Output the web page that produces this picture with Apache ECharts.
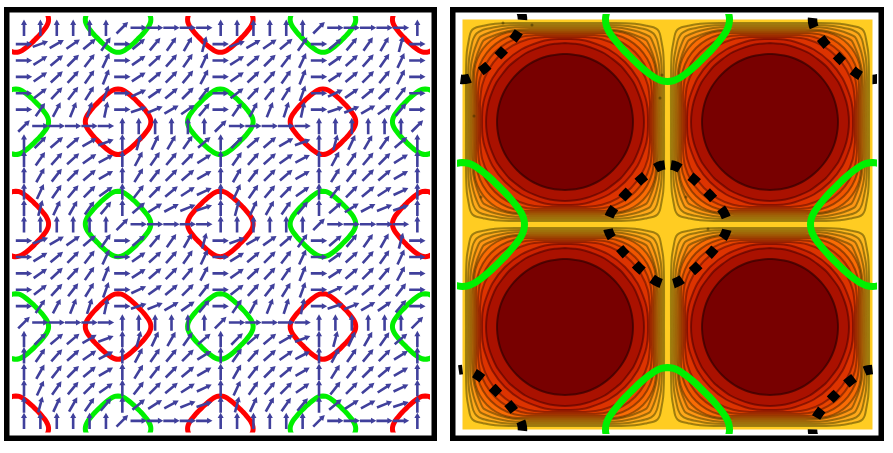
<!DOCTYPE html>
<html>
<head>
<meta charset="utf-8">
<style>
  html, body { margin: 0; padding: 0; background: #fff; }
  #main { width: 893px; height: 453px; }
</style>
<script src="https://cdn.jsdelivr.net/npm/echarts@6/dist/echarts.min.js"></script>
</head>
<body>
<div id="main"></div>
<script>
// left panel: arrow direction in degrees, one row per grid line, 25 x 25
const arrowAngles = [
  [90,90,90,90,90,90,45,0,0,0,0,0,90,90,90,90,90,90,45,0,0,0,0,0,90],
  [0,20,30,35,40,55,0,40,50,55,60,75,0,20,30,35,40,55,0,40,50,55,60,75,0],
  [0,32,40,45,52,65,0,35,42,48,55,65,0,32,40,45,52,65,0,35,42,48,55,65,0],
  [0,35,43,47,55,68,0,33,40,45,50,62,0,35,43,47,55,68,0,33,40,45,50,62,0],
  [0,38,47,52,58,70,0,25,35,40,45,52,0,38,47,52,58,70,0,25,35,40,45,52,0],
  [0,55,62,68,72,78,0,18,22,30,35,50,0,55,62,68,72,78,0,18,22,30,35,50,0],
  [45,0,0,0,0,0,90,90,90,90,90,90,45,0,0,0,0,0,90,90,90,90,90,90,45],
  [90,45,40,40,30,20,90,75,65,60,55,40,90,45,40,40,30,20,90,75,65,60,55,40,90],
  [90,55,48,42,35,28,90,62,55,50,45,32,90,55,48,42,35,28,90,62,55,50,45,32,90],
  [90,60,52,45,40,30,90,58,52,45,40,30,90,60,52,45,40,30,90,58,52,45,40,30,90],
  [90,65,55,50,45,35,90,52,45,40,33,25,90,65,55,50,45,35,90,52,45,40,33,25,90],
  [90,75,65,60,55,50,90,40,32,28,22,18,90,75,65,60,55,50,90,40,32,28,22,18,90],
  [90,90,90,90,90,90,45,0,0,0,0,0,90,90,90,90,90,90,45,0,0,0,0,0,90],
  [0,20,30,35,40,55,0,40,50,55,60,75,0,20,30,35,40,55,0,40,50,55,60,75,0],
  [0,32,40,45,52,65,0,35,42,48,55,65,0,32,40,45,52,65,0,35,42,48,55,65,0],
  [0,35,43,47,55,68,0,33,40,45,50,62,0,35,43,47,55,68,0,33,40,45,50,62,0],
  [0,38,47,52,58,70,0,25,35,40,45,52,0,38,47,52,58,70,0,25,35,40,45,52,0],
  [0,55,62,68,72,78,0,18,22,30,35,50,0,55,62,68,72,78,0,18,22,30,35,50,0],
  [45,0,0,0,0,0,90,90,90,90,90,90,45,0,0,0,0,0,90,90,90,90,90,90,45],
  [90,45,40,40,30,20,90,75,65,60,55,40,90,45,40,40,30,20,90,75,65,60,55,40,90],
  [90,55,48,42,35,28,90,62,55,50,45,32,90,55,48,42,35,28,90,62,55,50,45,32,90],
  [90,60,52,45,40,30,90,58,52,45,40,30,90,60,52,45,40,30,90,58,52,45,40,30,90],
  [90,65,55,50,45,35,90,52,45,40,33,25,90,65,55,50,45,35,90,52,45,40,33,25,90],
  [90,75,65,60,55,50,90,40,32,28,22,18,90,75,65,60,55,50,90,40,32,28,22,18,90],
  [90,90,90,90,90,90,45,0,0,0,0,0,90,90,90,90,90,90,45,0,0,0,0,0,90]
];

// left panel: centres of the rounded diamonds, in grid units
const redCentres = [
  [-0.5,-0.5],[11.98,-0.5],[24.48,-0.5],
  [5.74,5.74],[18.24,5.74],
  [-0.5,11.98],[11.98,11.98],[24.48,11.98],
  [5.74,18.24],[18.24,18.24],
  [-0.5,24.48],[11.98,24.48],[24.48,24.48]
];
const limeCentres = [
  [5.74,-0.5],[18.24,-0.5],
  [-0.5,5.74],[11.98,5.74],[24.48,5.74],
  [5.74,11.98],[18.24,11.98],
  [-0.5,18.24],[11.98,18.24],[24.48,18.24],
  [5.74,24.48],[18.24,24.48]
];
// one eighth of the rounded diamond, radius 1, from top vertex to the diagonal
const diamondOctant = [[0,1],[0.1,0.985],[0.2,0.94],[0.3,0.87],[0.4,0.79],[0.5,0.7],[0.6,0.6]];
const leftRadius = 2;

// right panel: centres of the four blobs and the curves, 410 units across
const blobCentres = [[102.5,102.5],[307.5,102.5],[102.5,307.5],[307.5,307.5]];
const greenCentres = [[205,0],[0,205],[410,205],[205,410]];
const blackCentres = [[0,0],[410,0],[205,205],[0,410],[410,410]];
const blackDashOffset = [11,13,19,10,14.5];
const greenRadius = 62;
const blackRadius = 60;

// small dark specks sitting on the outer contours
const contourSpecks = [[40.5,3.5],[69.5,5.5],[11.5,96.5],[199.5,55.5],[197.5,78.5],[18.5,177.5],[245.5,209.5],[223.5,177.5]];

// contour outlines of a blob, outer to inner, one eighth each
const levelOctants = [
  [[0,99],[50,99],[70,98.2],[82,96.2],[88.5,94.8],[92.5,92.5]],
  [[0,97],[45,97],[63,96],[75,93.8],[83,91.8],[88.5,88.5]],
  [[0,95],[40,95],[57,94],[69,91.5],[78,88.5],[85,85]],
  [[0,93],[35,93],[52,91.8],[64,89],[73.5,85.5],[81.5,81.5]],
  [[0,91],[23,91],[47,91],[58,89.5],[68.8,85],[78,78]],
  [[0,89],[19,89],[37.8,89],[51,87.3],[63.4,82.1],[74,74]],
  [[0,87],[15,87],[29,87],[44,85],[58,79.2],[70,70]],
  [[0,85],[10,85],[20.2,85],[37,82.8],[52.6,76.3],[66,66]],
  [[0,83],[4.5,83],[14,82.5],[24.8,80.3],[43.8,72.5],[60,60]],
  [[0,79],[10.2,78.3],[20.3,76.3],[30.2,72.9],[39.7,68.5],[48,62.6],[56,56]],
  [[0,68],[7,67.6],[14,66.5],[21,64.7],[28,62],[35,58.3],[42,53.4],[48,48]]
];
const levelFills = ['#ffb91f','#ffa81a','#ff9514','#ff820d','#fa6c05','#f05500','#e84400','#dd3300','#cc2200','#aa1100','#780000'];
const levelStrokes = ['rgba(80,70,0,.55)','rgba(80,70,0,.55)','rgba(80,65,0,.55)','rgba(80,60,0,.55)','rgba(80,50,0,.55)','rgba(80,35,0,.55)','rgba(80,20,0,.5)','rgba(80,10,0,.5)','rgba(70,0,0,.5)','rgba(70,0,0,.55)','rgba(50,0,0,.7)'];

function ringFromOctant(oct) {
  const q = oct.concat(oct.slice(0, -1).reverse().map(([x, y]) => [y, x]));
  const a = q.map(([x, y]) => [x, -y]);
  const b = q.slice(1).map(([x, y]) => [y, x]);
  const c = q.slice(1).map(([x, y]) => [-x, y]);
  const d = q.slice(1).map(([x, y]) => [-y, -x]);
  return a.concat(b, c, d);
}

const diamondRing = ringFromOctant(diamondOctant);

function ringSeries(centre, radius, gridIndex, lineStyle) {
  return {
    type: 'line',
    xAxisIndex: gridIndex,
    yAxisIndex: gridIndex,
    data: diamondRing.map(([x, y]) => [centre[0] + x * radius, centre[1] + y * radius]),
    smooth: 0.2,
    showSymbol: false,
    silent: true,
    animation: false,
    clip: true,
    z: 3,
    lineStyle
  };
}

const arrowData = [];
arrowAngles.forEach((row, j) => row.forEach((a, i) => arrowData.push([i, j, a])));

function renderArrow(params, api) {
  const c = api.coord([api.value(0), api.value(1)]);
  const r = api.value(2) * Math.PI / 180;
  const outline = [[-8.2,-1.3],[2.8,-1.3],[2.8,-3],[8.2,0],[2.8,3],[2.8,1.3],[-8.2,1.3]];
  return {
    type: 'polygon',
    shape: {
      points: outline.map(([x, y]) => [
        c[0] + x * Math.cos(r) - y * Math.sin(r),
        c[1] - x * Math.sin(r) - y * Math.cos(r)
      ])
    },
    style: { fill: '#40409c' }
  };
}

const blobData = [];
blobCentres.forEach((c) => levelOctants.forEach((o, k) => blobData.push([c[0], c[1], k])));

function renderLevel(params, api) {
  const k = api.value(2);
  const cx = api.value(0);
  const cy = api.value(1);
  return {
    type: 'polygon',
    shape: {
      points: ringFromOctant(levelOctants[k]).map(([x, y]) => api.coord([cx + x, cy + y])),
      smooth: 0.25
    },
    style: { fill: levelFills[k], stroke: levelStrokes[k], lineWidth: 2 }
  };
}

function renderBackdrop(params, api) {
  const a = api.coord([api.value(0), api.value(1)]);
  const b = api.coord([api.value(2), api.value(3)]);
  return {
    type: 'rect',
    shape: { x: a[0], y: a[1], width: b[0] - a[0], height: b[1] - a[1] },
    style: { fill: '#ffcc22' }
  };
}

const series = [];
redCentres.forEach((c) => series.push(ringSeries(c, leftRadius, 0, { color: '#ff0000', width: 5, cap: 'round', join: 'round' })));
limeCentres.forEach((c) => series.push(ringSeries(c, leftRadius, 0, { color: '#00f000', width: 5, cap: 'round', join: 'round' })));
series.push({
  type: 'custom', xAxisIndex: 0, yAxisIndex: 0, z: 4, silent: true, animation: false,
  renderItem: renderArrow, data: arrowData
});
series.push({
  type: 'custom', xAxisIndex: 1, yAxisIndex: 1, z: 1, silent: true, animation: false,
  renderItem: renderBackdrop, data: [[0, 0, 410, 410]]
});
series.push({
  type: 'custom', xAxisIndex: 1, yAxisIndex: 1, z: 2, silent: true, animation: false,
  renderItem: renderLevel, data: blobData
});
series.push({
  type: 'scatter', xAxisIndex: 1, yAxisIndex: 1, z: 2, silent: true, animation: false,
  symbolSize: 3, itemStyle: { color: 'rgba(50,40,0,.6)' }, data: contourSpecks
});
greenCentres.forEach((c) => series.push(ringSeries(c, greenRadius, 1, { color: '#00f000', width: 7, cap: 'round', join: 'round' })));
blackCentres.forEach((c, n) => series.push(ringSeries(c, blackRadius, 2, { color: '#000', width: 9.5, type: [10, 12.5], dashOffset: blackDashOffset[n] })));

function hiddenAxis(gridIndex, min, max, inverse) {
  return { type: 'value', gridIndex, min, max, inverse, show: false };
}

const myChart = echarts.init(document.getElementById('main'), null, { renderer: 'canvas' });
// the line clip grows by half the line width, so each line width gets its own inset grid
myChart.setOption({
  backgroundColor: '#fff',
  animation: false,
  grid: [
    { left: 15, top: 18.5, width: 411.5, height: 411.5 },
    { left: 460.5, top: 17.5, width: 413, height: 413 },
    { left: 461.75, top: 18.75, width: 410.5, height: 410.5 }
  ],
  xAxis: [hiddenAxis(0, -0.549, 24.558, false), hiddenAxis(1, -2, 411, false), hiddenAxis(2, -0.75, 409.75, false)],
  yAxis: [hiddenAxis(0, -0.562, 24.56, true), hiddenAxis(1, -2, 411, true), hiddenAxis(2, -0.75, 409.75, true)],
  series,
  graphic: [
    { type: 'rect', z: 10, shape: { x: 6.75, y: 9.75, width: 427.5, height: 428.5 }, style: { fill: null, stroke: '#000', lineWidth: 5.5 } },
    { type: 'rect', z: 10, shape: { x: 452.75, y: 9.75, width: 428.5, height: 428.5 }, style: { fill: null, stroke: '#000', lineWidth: 5.5 } }
  ]
});
</script>
</body>
</html>
